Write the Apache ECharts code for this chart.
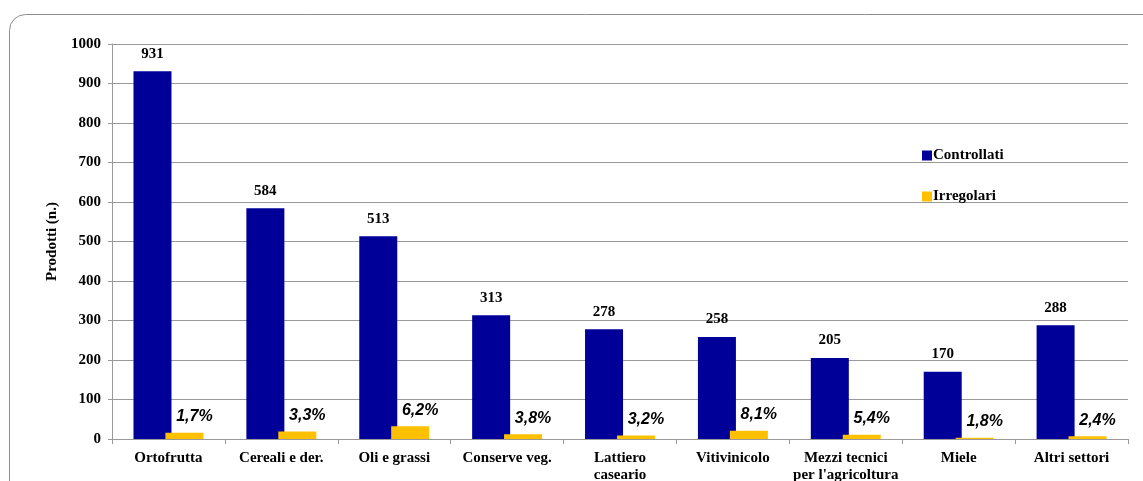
<!DOCTYPE html>
<html><head><meta charset="utf-8">
<script src="https://cdn.jsdelivr.net/npm/echarts@6/dist/echarts.min.js"></script>
<style>html,body{margin:0;padding:0;background:#fff}#c{width:1143px;height:481px}</style>
</head><body><div id="c"></div>
<script>
const categories = ['Ortofrutta','Cereali e der.','Oli e grassi','Conserve veg.','Lattiero\ncaseario','Vitivinicolo','Mezzi tecnici\nper l\'agricoltura','Miele','Altri settori'];
const controllati = [931,584,513,313,278,258,205,170,288];
const irregolari = [16,19,32,12,9,21,11,3,7];
const irregolariPct = ['1,7%','3,3%','6,2%','3,8%','3,2%','8,1%','5,4%','1,8%','2,4%'];
const yTicks = [0,100,200,300,400,500,600,700,800,900,1000];

const serif = '"Liberation Serif", "DejaVu Serif", serif';
const chart = echarts.init(document.getElementById('c'));
chart.setOption({
  animation:false,
  graphic:[{type:'rect',left:7,top:12,shape:{width:1200,height:520,r:16},style:{fill:'none',stroke:'#8c8c8c',lineWidth:1},silent:true,z:-10}],
  grid:{left:112,right:15,top:44,bottom:42,containLabel:false,outerBoundsMode:'none'},
  legend:{
    orient:'vertical',left:917,top:143,itemGap:26,itemWidth:10,itemHeight:10,icon:'rect',
    textStyle:{fontFamily:serif,fontWeight:'bold',fontSize:15,color:'#000',padding:[0,0,0,-4]},
    data:['Controllati','Irregolari']
  },
  xAxis:{
    type:'category',data:categories,
    axisLine:{lineStyle:{color:'#999'}},
    axisTick:{show:true,length:5,lineStyle:{color:'#999'}},
    axisLabel:{fontFamily:serif,fontWeight:'bold',fontSize:15,color:'#000',margin:11,lineHeight:17,interval:0}
  },
  yAxis:{
    type:'value',min:yTicks[0],max:yTicks[yTicks.length-1],interval:100,
    name:'Prodotti (n.)',nameLocation:'middle',nameGap:44,
    nameTextStyle:{fontFamily:serif,fontWeight:'bold',fontSize:15,color:'#000'},
    axisLine:{show:true,lineStyle:{color:'#999'}},
    axisTick:{show:true,length:4,lineStyle:{color:'#999'}},
    splitLine:{lineStyle:{color:'#999'}},
    axisLabel:{fontFamily:serif,fontWeight:'bold',fontSize:15,color:'#000',margin:11,formatter:v=>String(v)}
  },
  series:[
    {name:'Controllati',type:'bar',data:controllati,barWidth:38,barGap:'-16%',
     itemStyle:{color:'#000099'},
     label:{show:true,position:'top',distance:10,fontFamily:serif,fontWeight:'bold',fontSize:15,color:'#000'}},
    {name:'Irregolari',type:'bar',data:irregolari,barWidth:38,
     itemStyle:{color:'#FFC000'},
     label:{show:true,position:'top',distance:8,offset:[10,0],fontFamily:'"Liberation Sans", sans-serif',fontStyle:'italic',fontWeight:'bold',fontSize:16,color:'#000',
       formatter:p=>irregolariPct[p.dataIndex]}}
  ]
});
</script></body></html>
